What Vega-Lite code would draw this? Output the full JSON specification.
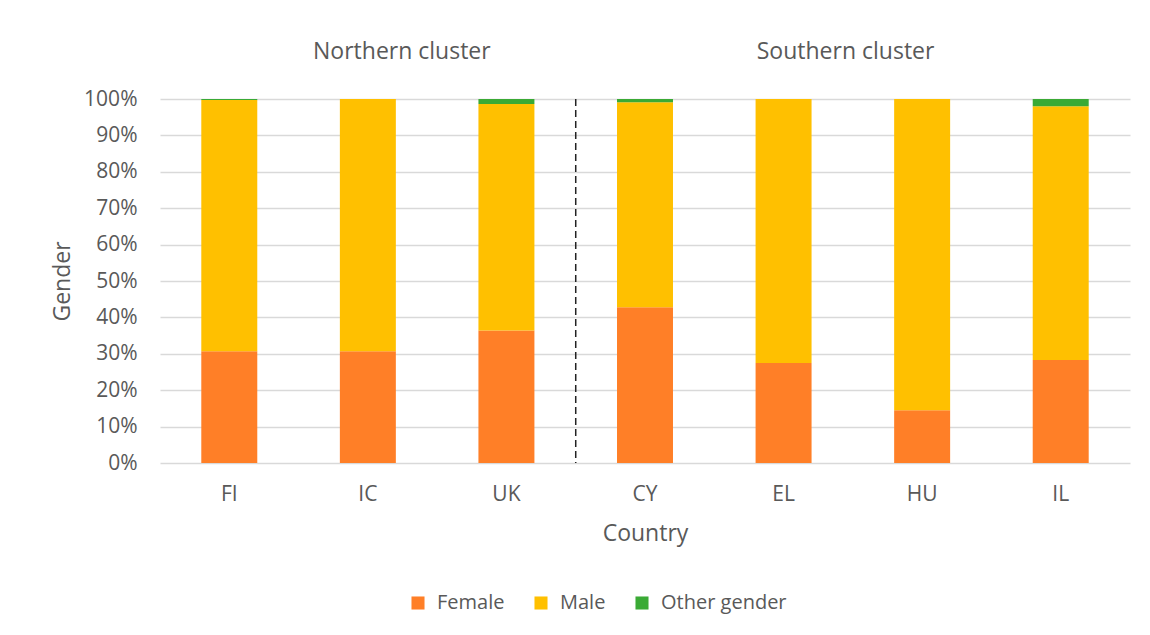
{
  "$schema": "https://vega.github.io/schema/vega-lite/v6.json",
  "width": 970,
  "height": 364,
  "autosize": {"type": "none"},
  "padding": {"left": 160, "top": 99, "right": 20, "bottom": 172},
  "background": "white",
  "config": {
    "view": {"stroke": null},
    "font": "Open Sans",
    "axis": {"labelColor": "#595959", "titleColor": "#595959", "labelFont": "Open Sans", "titleFont": "Open Sans", "titleFontWeight": "normal"},
    "legend": {"labelColor": "#595959", "labelFont": "Open Sans"}
  },
  "datasets": {
    "shares": [
      {"country": "FI", "gender": "Female", "value": 30.7, "ord": 1},
      {"country": "FI", "gender": "Male", "value": 69.0, "ord": 2},
      {"country": "FI", "gender": "Other gender", "value": 0.3, "ord": 3},
      {"country": "IC", "gender": "Female", "value": 30.7, "ord": 1},
      {"country": "IC", "gender": "Male", "value": 69.3, "ord": 2},
      {"country": "IC", "gender": "Other gender", "value": 0.0, "ord": 3},
      {"country": "UK", "gender": "Female", "value": 36.4, "ord": 1},
      {"country": "UK", "gender": "Male", "value": 62.2, "ord": 2},
      {"country": "UK", "gender": "Other gender", "value": 1.4, "ord": 3},
      {"country": "CY", "gender": "Female", "value": 42.8, "ord": 1},
      {"country": "CY", "gender": "Male", "value": 56.3, "ord": 2},
      {"country": "CY", "gender": "Other gender", "value": 0.9, "ord": 3},
      {"country": "EL", "gender": "Female", "value": 27.5, "ord": 1},
      {"country": "EL", "gender": "Male", "value": 72.5, "ord": 2},
      {"country": "EL", "gender": "Other gender", "value": 0.0, "ord": 3},
      {"country": "HU", "gender": "Female", "value": 14.5, "ord": 1},
      {"country": "HU", "gender": "Male", "value": 85.5, "ord": 2},
      {"country": "HU", "gender": "Other gender", "value": 0.0, "ord": 3},
      {"country": "IL", "gender": "Female", "value": 28.3, "ord": 1},
      {"country": "IL", "gender": "Male", "value": 69.7, "ord": 2},
      {"country": "IL", "gender": "Other gender", "value": 2.0, "ord": 3}
    ]
  },
  "layer": [
    {
      "data": {"name": "shares"},
      "mark": {"type": "bar"},
      "encoding": {
        "x": {
          "field": "country", "type": "nominal",
          "scale": {"domain": ["FI", "IC", "UK", "CY", "EL", "HU", "IL"], "paddingInner": 0.596, "paddingOuter": 0.298},
          "axis": {"title": "Country", "labelAngle": 0, "labelFontSize": 21, "titleFontSize": 23, "labelPadding": 20, "titlePadding": 18, "ticks": false, "domain": false, "grid": false}
        },
        "y": {
          "field": "value", "type": "quantitative", "stack": "zero",
          "scale": {"domain": [0, 100], "nice": false},
          "axis": {"title": "Gender", "values": [0, 10, 20, 30, 40, 50, 60, 70, 80, 90, 100], "tickCount": 11, "labelExpr": "datum.value + '%'", "labelOverlap": false, "labelFontSize": 21, "titleFontSize": 23, "labelPadding": 23, "titlePadding": 9, "ticks": false, "domain": false, "grid": true, "gridColor": "#d9d9d9", "gridWidth": 1.5}
        },
        "color": {
          "field": "gender", "type": "nominal",
          "scale": {"domain": ["Female", "Male", "Other gender"], "range": ["#FF7F27", "#FFC000", "#3AAA35"]},
          "legend": {"title": null, "orient": "none", "direction": "horizontal", "legendX": 248, "legendY": 494, "symbolType": "square", "symbolSize": 170, "symbolStrokeWidth": 0, "symbolOpacity": 1, "labelFontSize": 20, "columnPadding": 26, "labelOffset": 9}
        },
        "order": {"field": "ord", "type": "quantitative"}
      }
    },
    {
      "data": {"values": [{"country": "UK", "top": 100, "bottom": 0}]},
      "mark": {"type": "rule", "color": "#222222", "strokeWidth": 1.5, "strokeDash": [7, 4], "xOffset": 69.3},
      "encoding": {
        "x": {"field": "country", "type": "nominal"},
        "y": {"field": "top", "type": "quantitative"},
        "y2": {"field": "bottom"}
      }
    },
    {
      "data": {"values": [{"label": "Northern cluster", "country": "IC", "pos": 100}]},
      "mark": {"type": "text", "fontSize": 23, "color": "#595959", "dx": 34, "dy": -47, "baseline": "middle", "align": "center"},
      "encoding": {
        "x": {"field": "country", "type": "nominal"},
        "y": {"field": "pos", "type": "quantitative"},
        "text": {"field": "label"}
      }
    },
    {
      "data": {"values": [{"label": "Southern cluster", "country": "EL", "pos": 100}]},
      "mark": {"type": "text", "fontSize": 23, "color": "#595959", "dx": 62, "dy": -47, "baseline": "middle", "align": "center"},
      "encoding": {
        "x": {"field": "country", "type": "nominal"},
        "y": {"field": "pos", "type": "quantitative"},
        "text": {"field": "label"}
      }
    }
  ]
}
